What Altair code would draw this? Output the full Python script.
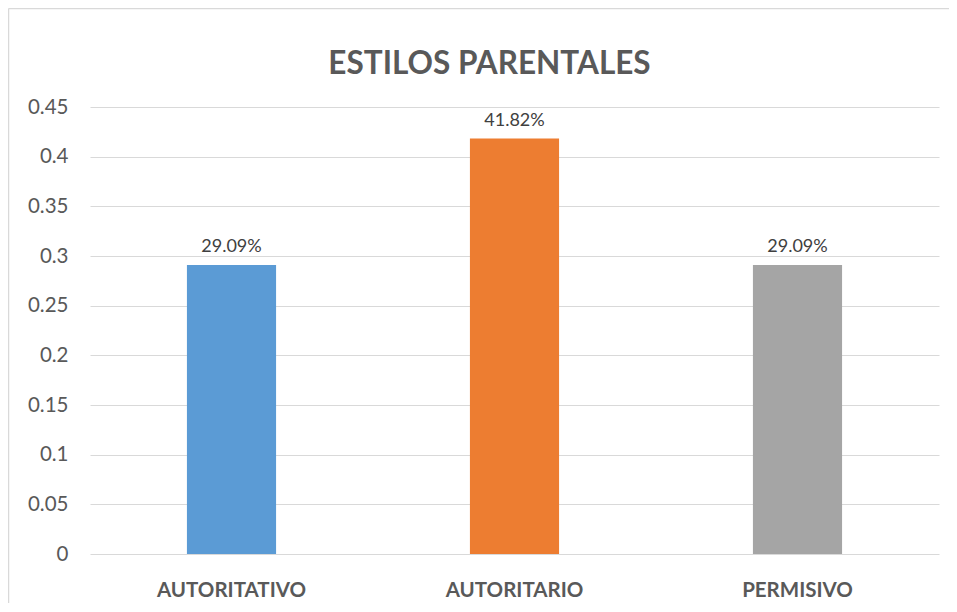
import altair as alt
import pandas as pd

categories = ["AUTORITATIVO", "AUTORITARIO", "PERMISIVO"]
values = [0.2909, 0.4182, 0.2909]
colors = ["#5B9BD5", "#ED7D31", "#A5A5A5"]
y_ticks = [0, 0.05, 0.1, 0.15, 0.2, 0.25, 0.3, 0.35, 0.4, 0.45]
title_text = ["ESTILOS PARENTALES"]

df = pd.DataFrame({"cat": categories, "val": values})
tdf = pd.DataFrame({"t": title_text})

W, H = 849, 447

x = alt.X("cat:N", sort=categories, title=None,
          scale=alt.Scale(paddingInner=0.685, paddingOuter=0.3425),
          axis=alt.Axis(labelAngle=0, labelFont="Lato", labelFontSize=20.5, labelFontWeight="bold",
                        labelColor="#595959", labelPadding=26, ticks=False, domain=False, grid=False))
y = alt.Y("val:Q", title=None,
          scale=alt.Scale(domain=[0, 0.45], nice=False),
          axis=alt.Axis(values=y_ticks, format="~g", labelFont="Lato", labelFontSize=20.5,
                        labelColor="#595959", labelPadding=22, ticks=False, domain=False,
                        grid=True, gridColor="#D9D9D9", gridWidth=1))

bars = alt.Chart(df).mark_bar().encode(
    x=x, y=y,
    color=alt.Color("cat:N", scale=alt.Scale(domain=categories, range=colors), legend=None),
)

labels = alt.Chart(df).mark_text(font="Lato", fontSize=18, color="#404040",
                                 baseline="alphabetic", dy=-13).encode(
    x=alt.X("cat:N", sort=categories),
    y="val:Q",
    text=alt.Text("val:Q", format=".2%"),
)

title = alt.Chart(tdf).mark_text(font="Lato", fontSize=31.5, fontWeight="bold", color="#595959",
                                 baseline="alphabetic", align="center").encode(
    x=alt.value(W / 2 - 25), y=alt.value(-33), text="t:N"
)

left_edge = alt.Chart(tdf).mark_rule(stroke="#D9D9D9", strokeWidth=1.5).encode(
    x=alt.value(-81.5), y=alt.value(-98.5), y2=alt.value(H + 100)
)
top_edge = alt.Chart(tdf).mark_rule(stroke="#D9D9D9", strokeWidth=1.5).encode(
    x=alt.value(-81.5), x2=alt.value(W + 100), y=alt.value(-98.5)
)

chart = alt.layer(left_edge, top_edge, bars, labels, title).properties(
    width=W, height=H,
    background="white",
    autosize=alt.AutoSizeParams(type="none"),
    padding={"left": 82, "top": 99, "right": 10, "bottom": 49},
).configure_view(strokeWidth=0, stroke=None)

chart.save("out.html", embed_options={"renderer": "svg", "actions": False})
